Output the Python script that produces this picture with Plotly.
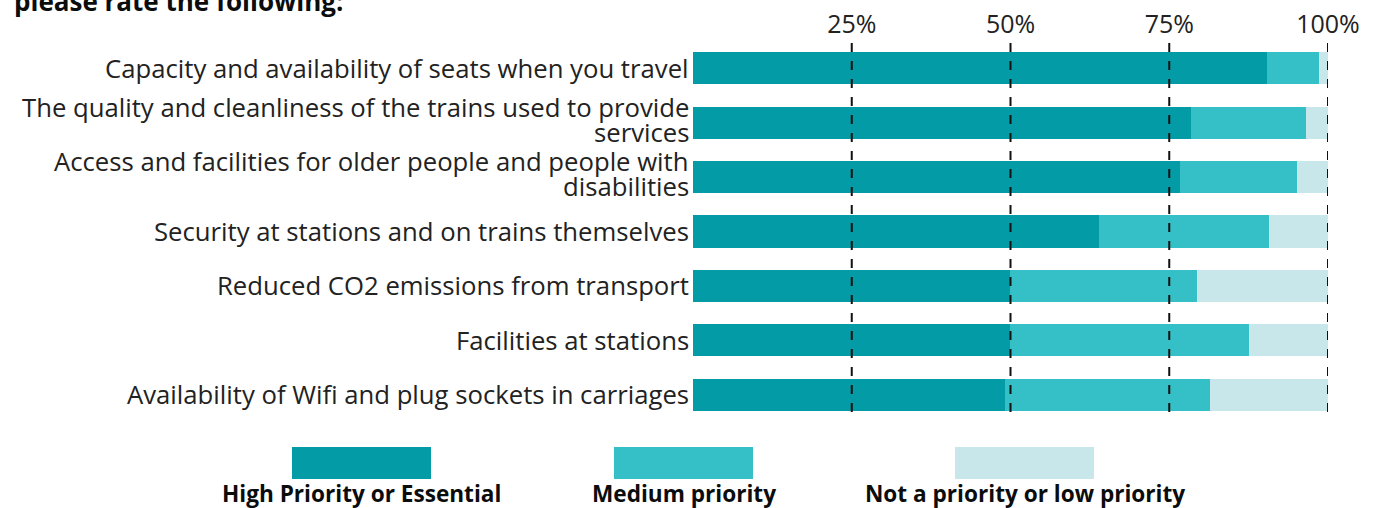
import plotly.graph_objects as go

categories = [
    "Capacity and availability of seats when you travel",
    "The quality and cleanliness of the trains used to provide<br>services",
    "Access and facilities for older people and people with<br>disabilities",
    "Security at stations and on trains themselves",
    "Reduced CO2 emissions from transport",
    "Facilities at stations",
    "Availability of Wifi and plug sockets in carriages",
]
high = [90.4, 78.4, 76.7, 63.9, 49.9, 49.9, 49.1]
medium = [8.2, 18.2, 18.4, 26.8, 29.4, 37.7, 32.3]
low = [1.4, 3.4, 4.9, 9.3, 20.7, 12.4, 18.6]

series_names = ["High Priority or Essential", "Medium priority", "Not a priority or low priority"]
series_values = [high, medium, low]
colors = ["#039ba6", "#35bfc6", "#c8e7ea"]
grid_ticks = [25, 50, 75, 100]
tick_text = ["25%", "50%", "75%", "100%"]

W, H = 1381, 508
L, R, T, B = 693, 53, 41, 86
PW, PH = W - L - R, H - T - B
FONT = "Open Sans"
TXT = "#222222"

def px(x):
    return (x - L) / PW

def py(y):
    return (H - B - y) / PH

fig = go.Figure()
for name, vals, c in zip(series_names, series_values, colors):
    fig.add_trace(go.Bar(
        y=categories, x=vals, name=name, orientation="h",
        marker=dict(color=c, line=dict(width=0)), width=0.59,
        showlegend=False,
    ))

for t in grid_ticks:
    fig.add_shape(type="line", xref="x", yref="paper", x0=t, x1=t, y0=py(412), y1=py(36),
                  line=dict(color="#111", width=2, dash="dash"), layer="above")

# category labels (tight line spacing like the reference)
LINE = 25
for cat in categories:
    lines = cat.split("<br>")
    n = len(lines)
    for i, ln in enumerate(lines):
        shift = ((n - 1) / 2 - i) * LINE + (3 if n > 1 else 0)
        fig.add_annotation(xref="x", yref="y", x=0, y=cat, text=ln, showarrow=False,
                           xanchor="right", yanchor="middle", xshift=-2, yshift=shift,
                           font=dict(family=FONT, size=25.7, color=TXT))

# custom legend
leg_x = [(292, 431), (614, 753), (955, 1094)]
for (x0, x1), name, c in zip(leg_x, series_names, colors):
    fig.add_shape(type="rect", xref="paper", yref="paper", x0=px(x0), x1=px(x1),
                  y0=py(479), y1=py(447), fillcolor=c, line=dict(width=0))
    fig.add_annotation(xref="paper", yref="paper", x=px((x0 + x1) / 2), y=py(493),
                       text="<b>" + name + "</b>", showarrow=False, xanchor="center", yanchor="middle",
                       font=dict(family=FONT, size=22.6, color="#0b0c0c"))

fig.add_annotation(xref="paper", yref="paper", x=px(12), y=py(21), xanchor="left", yanchor="bottom",
                   text="<b>please rate the following:</b>", showarrow=False,
                   font=dict(family=FONT, size=26, color="#0b0c0c"))

fig.update_layout(
    width=W, height=H, barmode="stack", bargap=0.41,
    margin=dict(l=L, r=R, t=T, b=B, autoexpand=False),
    paper_bgcolor="white", plot_bgcolor="white",
    font=dict(family=FONT, size=20, color=TXT),
    xaxis=dict(range=[0, 100], side="top", tickvals=grid_ticks, ticktext=tick_text,
               showgrid=False, zeroline=False, showline=False, ticks="", ticklabelstandoff=2,
               automargin=False,
               tickfont=dict(family=FONT, size=25, color=TXT), fixedrange=True),
    yaxis=dict(autorange="reversed", showgrid=False, ticks="", showticklabels=False,
               automargin=False, fixedrange=True),
)

fig.write_html("out.html")
